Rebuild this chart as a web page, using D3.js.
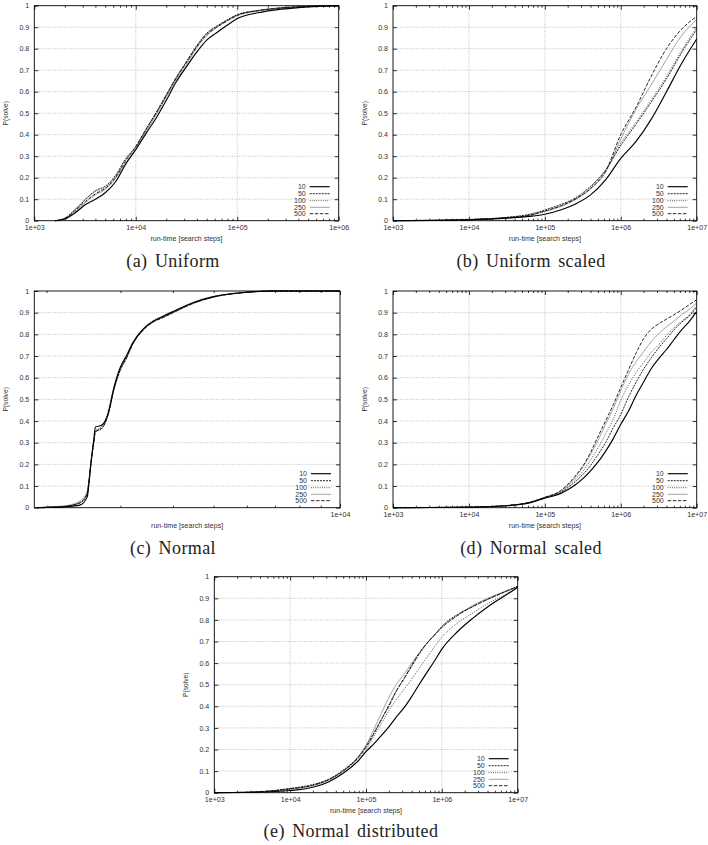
<!DOCTYPE html>
<html><head><meta charset="utf-8">
<script src="https://cdn.jsdelivr.net/npm/d3@7"></script>
<style>body{margin:0;background:#fff}svg{display:block}</style>
</head><body>
<svg id="chart" width="708" height="845"></svg>
<script>
// ---------------- DATA ----------------
const seriesNames = ["10", "50", "100", "250", "500"];
const yTicks = [0, 0.1, 0.2, 0.3, 0.4, 0.5, 0.6, 0.7, 0.8, 0.9, 1];
const xAxisTitle = "run-time [search steps]";
const yAxisTitle = "P(solve)";

// (a) Uniform
const aX = [1600, 2000, 2500, 3200, 4000, 5000, 6300, 8000, 10000, 12600, 16000, 20000, 25000, 32000, 40000, 50000, 63000, 80000, 100000, 160000, 250000, 400000, 630000, 1000000];
const a10  = [0, 0.008, 0.035, 0.075, 0.1, 0.13, 0.18, 0.265, 0.33, 0.405, 0.48, 0.56, 0.645, 0.72, 0.785, 0.84, 0.875, 0.91, 0.94, 0.967, 0.982, 0.991, 0.997, 1];
const a50  = [0, 0.012, 0.05, 0.1, 0.14, 0.16, 0.21, 0.29, 0.345, 0.425, 0.505, 0.585, 0.665, 0.745, 0.815, 0.872, 0.905, 0.935, 0.958, 0.978, 0.989, 0.995, 0.998, 1];
const a100 = [0, 0.012, 0.05, 0.1, 0.135, 0.155, 0.205, 0.285, 0.34, 0.42, 0.5, 0.58, 0.66, 0.74, 0.81, 0.87, 0.905, 0.933, 0.957, 0.977, 0.988, 0.995, 0.998, 1];
const a250 = [0, 0.01, 0.04, 0.085, 0.12, 0.145, 0.195, 0.27, 0.335, 0.415, 0.495, 0.575, 0.655, 0.73, 0.805, 0.86, 0.9, 0.93, 0.953, 0.975, 0.987, 0.994, 0.998, 1];
const a500 = [0, 0.01, 0.045, 0.09, 0.125, 0.15, 0.2, 0.28, 0.345, 0.425, 0.505, 0.585, 0.665, 0.74, 0.81, 0.865, 0.9, 0.93, 0.955, 0.977, 0.988, 0.995, 0.998, 1];

// (b) Uniform scaled
const bX = [1000, 3200, 10000, 32000, 63000, 100000, 160000, 250000, 400000, 630000, 1000000, 1600000, 2500000, 4000000, 6300000, 10000000];
const b10  = [0, 0.001, 0.004, 0.012, 0.02, 0.03, 0.05, 0.077, 0.12, 0.19, 0.29, 0.37, 0.47, 0.60, 0.73, 0.845];
const b50  = [0, 0.002, 0.006, 0.016, 0.03, 0.05, 0.075, 0.105, 0.16, 0.235, 0.35, 0.45, 0.55, 0.66, 0.78, 0.89];
const b100 = [0, 0.002, 0.005, 0.015, 0.027, 0.045, 0.07, 0.1, 0.155, 0.235, 0.36, 0.46, 0.56, 0.67, 0.79, 0.90];
const b250 = [0, 0.002, 0.005, 0.014, 0.025, 0.043, 0.065, 0.097, 0.148, 0.225, 0.38, 0.52, 0.63, 0.75, 0.86, 0.935];
const b500 = [0, 0.002, 0.005, 0.014, 0.025, 0.045, 0.068, 0.1, 0.15, 0.23, 0.40, 0.53, 0.67, 0.80, 0.89, 0.95];

// (c) Normal
const cX = [1900, 2000, 2200, 2400, 2500, 2520, 2550, 2590, 2615, 2700, 2750, 2800, 2900, 3000, 3100, 3200, 3400, 3600, 3800, 4000, 4500, 5000, 6000, 7000, 10000];
const c10  = [0, 0.001, 0.004, 0.012, 0.05, 0.1, 0.2, 0.31, 0.372, 0.38, 0.395, 0.43, 0.56, 0.65, 0.70, 0.755, 0.825, 0.862, 0.885, 0.905, 0.948, 0.974, 0.994, 1, 1];
const c50  = [0, 0.002, 0.006, 0.022, 0.065, 0.11, 0.2, 0.3, 0.35, 0.365, 0.385, 0.425, 0.55, 0.635, 0.69, 0.75, 0.82, 0.86, 0.88, 0.9, 0.945, 0.972, 0.994, 1, 1];
const c100 = [0, 0.002, 0.006, 0.025, 0.07, 0.115, 0.205, 0.3, 0.352, 0.37, 0.39, 0.43, 0.555, 0.64, 0.695, 0.755, 0.825, 0.865, 0.885, 0.905, 0.95, 0.975, 0.995, 1, 1];
const c250 = [0, 0.003, 0.008, 0.03, 0.075, 0.12, 0.21, 0.305, 0.355, 0.372, 0.395, 0.44, 0.565, 0.65, 0.705, 0.76, 0.825, 0.86, 0.88, 0.9, 0.948, 0.974, 0.995, 1, 1];
const c500 = [0, 0.002, 0.005, 0.022, 0.065, 0.11, 0.2, 0.3, 0.35, 0.363, 0.385, 0.43, 0.555, 0.64, 0.69, 0.75, 0.82, 0.858, 0.878, 0.9, 0.945, 0.972, 0.994, 1, 1];

// (d) Normal scaled
const dX = [1000, 3200, 10000, 32000, 63000, 100000, 160000, 250000, 320000, 400000, 500000, 630000, 800000, 1000000, 1260000, 1600000, 2000000, 2500000, 3200000, 4000000, 5000000, 6300000, 8000000, 10000000];
const d10  = [0, 0.001, 0.002, 0.009, 0.022, 0.044, 0.065, 0.105, 0.135, 0.17, 0.21, 0.26, 0.32, 0.385, 0.445, 0.52, 0.58, 0.64, 0.69, 0.73, 0.775, 0.82, 0.86, 0.905];
const d50  = [0, 0.001, 0.003, 0.01, 0.024, 0.046, 0.07, 0.12, 0.155, 0.195, 0.245, 0.30, 0.37, 0.43, 0.51, 0.58, 0.64, 0.69, 0.74, 0.78, 0.82, 0.855, 0.885, 0.925];
const d100 = [0, 0.001, 0.003, 0.01, 0.025, 0.047, 0.073, 0.13, 0.17, 0.22, 0.275, 0.34, 0.41, 0.495, 0.565, 0.625, 0.67, 0.715, 0.755, 0.795, 0.83, 0.86, 0.89, 0.935];
const d250 = [0, 0.001, 0.003, 0.01, 0.025, 0.048, 0.076, 0.14, 0.19, 0.245, 0.31, 0.385, 0.46, 0.54, 0.615, 0.675, 0.72, 0.765, 0.805, 0.835, 0.86, 0.89, 0.915, 0.945];
const d500 = [0, 0.001, 0.003, 0.01, 0.025, 0.048, 0.078, 0.145, 0.195, 0.255, 0.327, 0.40, 0.477, 0.555, 0.635, 0.715, 0.78, 0.822, 0.85, 0.87, 0.89, 0.912, 0.937, 0.96];

// (e) Normal distributed
const eX = [1000, 3200, 10000, 20000, 32000, 50000, 80000, 100000, 126000, 160000, 200000, 250000, 320000, 400000, 500000, 630000, 800000, 1000000, 1600000, 2500000, 4000000, 6300000, 10000000];
const e10  = [0, 0.002, 0.01, 0.025, 0.05, 0.09, 0.15, 0.19, 0.225, 0.265, 0.305, 0.35, 0.395, 0.445, 0.5, 0.555, 0.61, 0.665, 0.745, 0.805, 0.86, 0.905, 0.95];
const e50  = [0, 0.003, 0.02, 0.038, 0.062, 0.105, 0.168, 0.215, 0.275, 0.34, 0.405, 0.47, 0.53, 0.585, 0.64, 0.69, 0.73, 0.77, 0.825, 0.86, 0.895, 0.925, 0.955];
const e100 = [0, 0.003, 0.017, 0.034, 0.058, 0.1, 0.16, 0.2, 0.26, 0.32, 0.38, 0.43, 0.48, 0.525, 0.575, 0.625, 0.675, 0.72, 0.785, 0.83, 0.875, 0.91, 0.953];
const e250 = [0, 0.003, 0.016, 0.033, 0.058, 0.1, 0.17, 0.22, 0.29, 0.37, 0.44, 0.5, 0.55, 0.6, 0.645, 0.69, 0.73, 0.765, 0.82, 0.865, 0.9, 0.928, 0.955];
const e500 = [0, 0.003, 0.018, 0.035, 0.06, 0.1, 0.165, 0.21, 0.27, 0.34, 0.4, 0.47, 0.53, 0.59, 0.645, 0.69, 0.73, 0.765, 0.82, 0.86, 0.895, 0.925, 0.955];

const captions = ["(a) Uniform", "(b) Uniform scaled", "(c) Normal", "(d) Normal scaled", "(e) Normal distributed"];

// ---------------- LAYOUT / STYLE ----------------
const panels = [
  {xs: aX, ys: [a10, a50, a100, a250, a500], dom: [1e3, 1e6], box: {l: 34.3, r: 338.7, t: 5.7, b: 220.7}, cap: 0, capX: 173, capDy: 46.5},
  {xs: bX, ys: [b10, b50, b100, b250, b500], dom: [1e3, 1e7], box: {l: 393, r: 696.7, t: 5.7, b: 220.7}, cap: 1, capX: 531, capDy: 46.5},
  {xs: cX, ys: [c10, c50, c100, c250, c500], dom: [1870, 1e4], box: {l: 34.3, r: 340, t: 291, b: 507.7}, cap: 2, capX: 173, capDy: 46.5},
  {xs: dX, ys: [d10, d50, d100, d250, d500], dom: [1e3, 1e7], box: {l: 393, r: 696.7, t: 291, b: 507.7}, cap: 3, capX: 531, capDy: 46.5},
  {xs: eX, ys: [e10, e50, e100, e250, e500], dom: [1e3, 1e7], box: {l: 214.3, r: 517.7, t: 576.7, b: 792.7}, cap: 4, capX: 351, capDy: 44}
];
const styles = [
  {stroke: "#000", w: 1.15, dash: null},
  {stroke: "#111", w: 0.9, dash: "2,1"},
  {stroke: "#222", w: 0.9, dash: "0.8,1.4"},
  {stroke: "#9a9a9a", w: 0.9, dash: null},
  {stroke: "#111", w: 0.9, dash: "3.5,1.6"}
];
const FONT = "'Liberation Sans', Arial, sans-serif";
const svg = d3.select("#chart");

function fmtExp(d) {
  const e = Math.round(Math.log10(d));
  return "1e+" + String(e).padStart(2, "0");
}
function fmtY(d) { return String(+d.toFixed(1)); }

panels.forEach(p => {
  const B = p.box;
  const x = d3.scaleLog().domain(p.dom).range([B.l, B.r]);
  const y = d3.scaleLinear().domain([0, 1]).range([B.b, B.t]);
  const g = svg.append("g");

  const lo = Math.floor(Math.log10(p.dom[0])), hi = Math.ceil(Math.log10(p.dom[1]));
  const majors = [], minors = [];
  for (let k = lo; k <= hi; k++) {
    const v = Math.pow(10, k);
    if (v >= p.dom[0] - 1e-9 && v <= p.dom[1] + 1e-9) majors.push(v);
    for (let m = 2; m <= 9; m++) {
      const mv = m * v;
      if (mv > p.dom[0] && mv < p.dom[1]) minors.push(mv);
    }
  }

  // grid
  const grid = g.append("g").attr("stroke", "#b4b4b4").attr("stroke-width", 0.8).attr("stroke-dasharray", "1,1.3");
  majors.filter(v => x(v) > B.l + 1 && x(v) < B.r - 1).forEach(v => {
    grid.append("line").attr("x1", x(v)).attr("x2", x(v)).attr("y1", B.t).attr("y2", B.b);
  });
  yTicks.filter(v => v > 0 && v < 1).forEach(v => {
    grid.append("line").attr("x1", B.l).attr("x2", B.r).attr("y1", y(v)).attr("y2", y(v));
  });

  // axes
  const styleAxis = sel => {
    sel.select(".domain").remove();
    sel.attr("font-family", FONT).attr("font-size", 7.1).attr("color", "#000");
    sel.selectAll("text").attr("fill", "#333");
    sel.selectAll("line").attr("stroke-width", 0.8);
  };
  g.append("g").attr("transform", `translate(0,${B.b})`)
    .call(d3.axisBottom(x).tickValues(majors).tickSize(-4).tickPadding(4.7).tickFormat(fmtExp)).call(styleAxis);
  g.append("g").attr("transform", `translate(0,${B.b})`)
    .call(d3.axisBottom(x).tickValues(minors).tickSize(-2).tickFormat("")).call(styleAxis);
  g.append("g").attr("transform", `translate(0,${B.t})`)
    .call(d3.axisTop(x).tickValues(majors).tickSize(-4).tickFormat("")).call(styleAxis);
  g.append("g").attr("transform", `translate(0,${B.t})`)
    .call(d3.axisTop(x).tickValues(minors).tickSize(-2).tickFormat("")).call(styleAxis);
  g.append("g").attr("transform", `translate(${B.l},0)`)
    .call(d3.axisLeft(y).tickValues(yTicks).tickSize(-4).tickPadding(5).tickFormat(fmtY)).call(styleAxis);
  g.append("g").attr("transform", `translate(${B.r},0)`)
    .call(d3.axisRight(y).tickValues(yTicks).tickSize(-4).tickFormat("")).call(styleAxis);

  // series
  const line = d3.line().x(d => x(d[0])).y(d => y(d[1])).curve(d3.curveMonotoneX);
  const order = [3, 2, 1, 4, 0];
  order.forEach(i => {
    const pts = p.xs.map((xv, j) => [xv, p.ys[i][j]]);
    const s = styles[i];
    g.append("path").datum(pts).attr("d", line).attr("fill", "none")
      .attr("stroke", s.stroke).attr("stroke-width", s.w)
      .attr("stroke-dasharray", s.dash).attr("stroke-linejoin", "round");
  });

  // border
  g.append("rect").attr("x", B.l).attr("y", B.t).attr("width", B.r - B.l).attr("height", B.b - B.t)
    .attr("fill", "none").attr("stroke", "#000").attr("stroke-width", 0.9);

  // legend
  const rowOff = [34, 27, 20, 13.4, 7];
  seriesNames.forEach((name, i) => {
    const ly = B.b - rowOff[i];
    g.append("text").attr("x", B.r - 33).attr("y", ly).attr("dy", "0.35em")
      .attr("text-anchor", "end").attr("font-family", FONT).attr("font-size", 7)
      .attr("fill", "#333").text(name);
    const s = styles[i];
    g.append("line").attr("x1", B.r - 29).attr("x2", B.r - 9).attr("y1", ly).attr("y2", ly)
      .attr("stroke", s.stroke).attr("stroke-width", s.w).attr("stroke-dasharray", s.dash);
  });

  // axis titles
  g.append("text").attr("x", (B.l + B.r) / 2).attr("y", B.b + 20.5)
    .attr("text-anchor", "middle").attr("font-family", FONT).attr("font-size", 7.1)
    .attr("fill", "#333").text(xAxisTitle);
  g.append("text").attr("transform", `translate(${B.l - 28.5},${(B.t + B.b) / 2}) rotate(-90)`)
    .attr("dy", "0.35em").attr("text-anchor", "middle").attr("font-family", FONT)
    .attr("font-size", 6.7).attr("fill", "#333").text(yAxisTitle);

  // caption
  g.append("text").attr("x", p.capX).attr("y", B.b + p.capDy)
    .attr("text-anchor", "middle").attr("font-family", "'Liberation Serif', 'Times New Roman', serif")
    .attr("font-size", 18).attr("letter-spacing", 0.4).attr("word-spacing", 2.5)
    .attr("fill", "#222").text(captions[p.cap]);
});
</script>
</body></html>
